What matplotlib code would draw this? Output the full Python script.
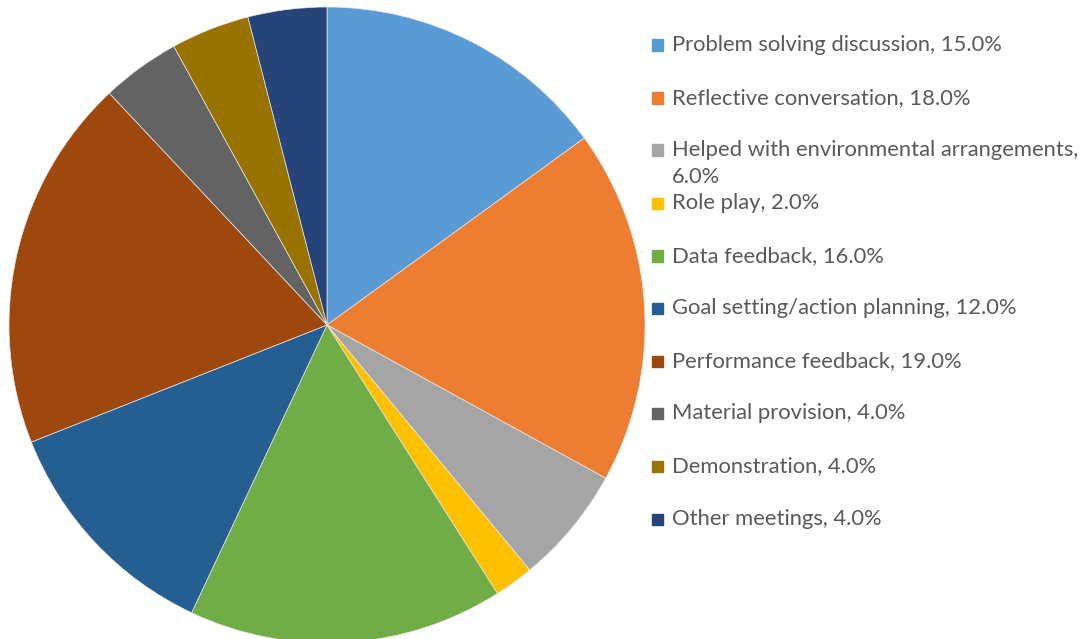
import matplotlib.pyplot as plt
from matplotlib.patches import Rectangle

labels = ['Problem solving discussion', 'Reflective conversation',
          'Helped with environmental arrangements', 'Role play',
          'Data feedback', 'Goal setting/action planning',
          'Performance feedback', 'Material provision',
          'Demonstration', 'Other meetings']
shares = [15.0, 18.0, 6.0, 2.0, 16.0, 12.0, 19.0, 4.0, 4.0, 4.0]
colors = ['#5B9BD5', '#ED7D31', '#A5A5A5', '#FFC000', '#70AD47',
          '#255E91', '#9E480E', '#636363', '#997300', '#264478']

W, H = 1090, 639
fig = plt.figure(figsize=(W / 100, H / 100), dpi=100)

# pie centred at (327, 325) px from top-left, radius 318 px
cx, cy, r = 327, 325, 318
ax = fig.add_axes([(cx - r) / W, (H - cy - r) / H, 2 * r / W, 2 * r / H])
ax.pie(shares, colors=colors, startangle=90, counterclock=False, radius=1,
       wedgeprops=dict(linewidth=0.5, edgecolor='#e8e8e8'))
ax.set_xlim(-1, 1)
ax.set_ylim(-1, 1)
ax.set_aspect('auto')
ax.axis('off')

# hand-built legend
rows = [45, 98, 150, 203, 256, 308, 361, 413, 466, 519]
font = dict(family=['Lato', 'DejaVu Sans'], fontsize=15.8, color='#595959')
for lab, val, col, y in zip(labels, shares, colors, rows):
    fig.patches.append(Rectangle((652 / W, (H - y - 5.5) / H), 11 / W, 11 / H,
                                 transform=fig.transFigure, color=col))
    if lab.startswith('Helped'):
        fig.text(672 / W, (H - y) / H, f'{lab},', va='center', ha='left', **font)
        fig.text(672 / W, (H - y - 27) / H, f'{val:.1f}%', va='center',
                 ha='left', **font)
    else:
        fig.text(672 / W, (H - y) / H, f'{lab}, {val:.1f}%', va='center',
                 ha='left', **font)

fig.savefig('out.png', dpi=100)
